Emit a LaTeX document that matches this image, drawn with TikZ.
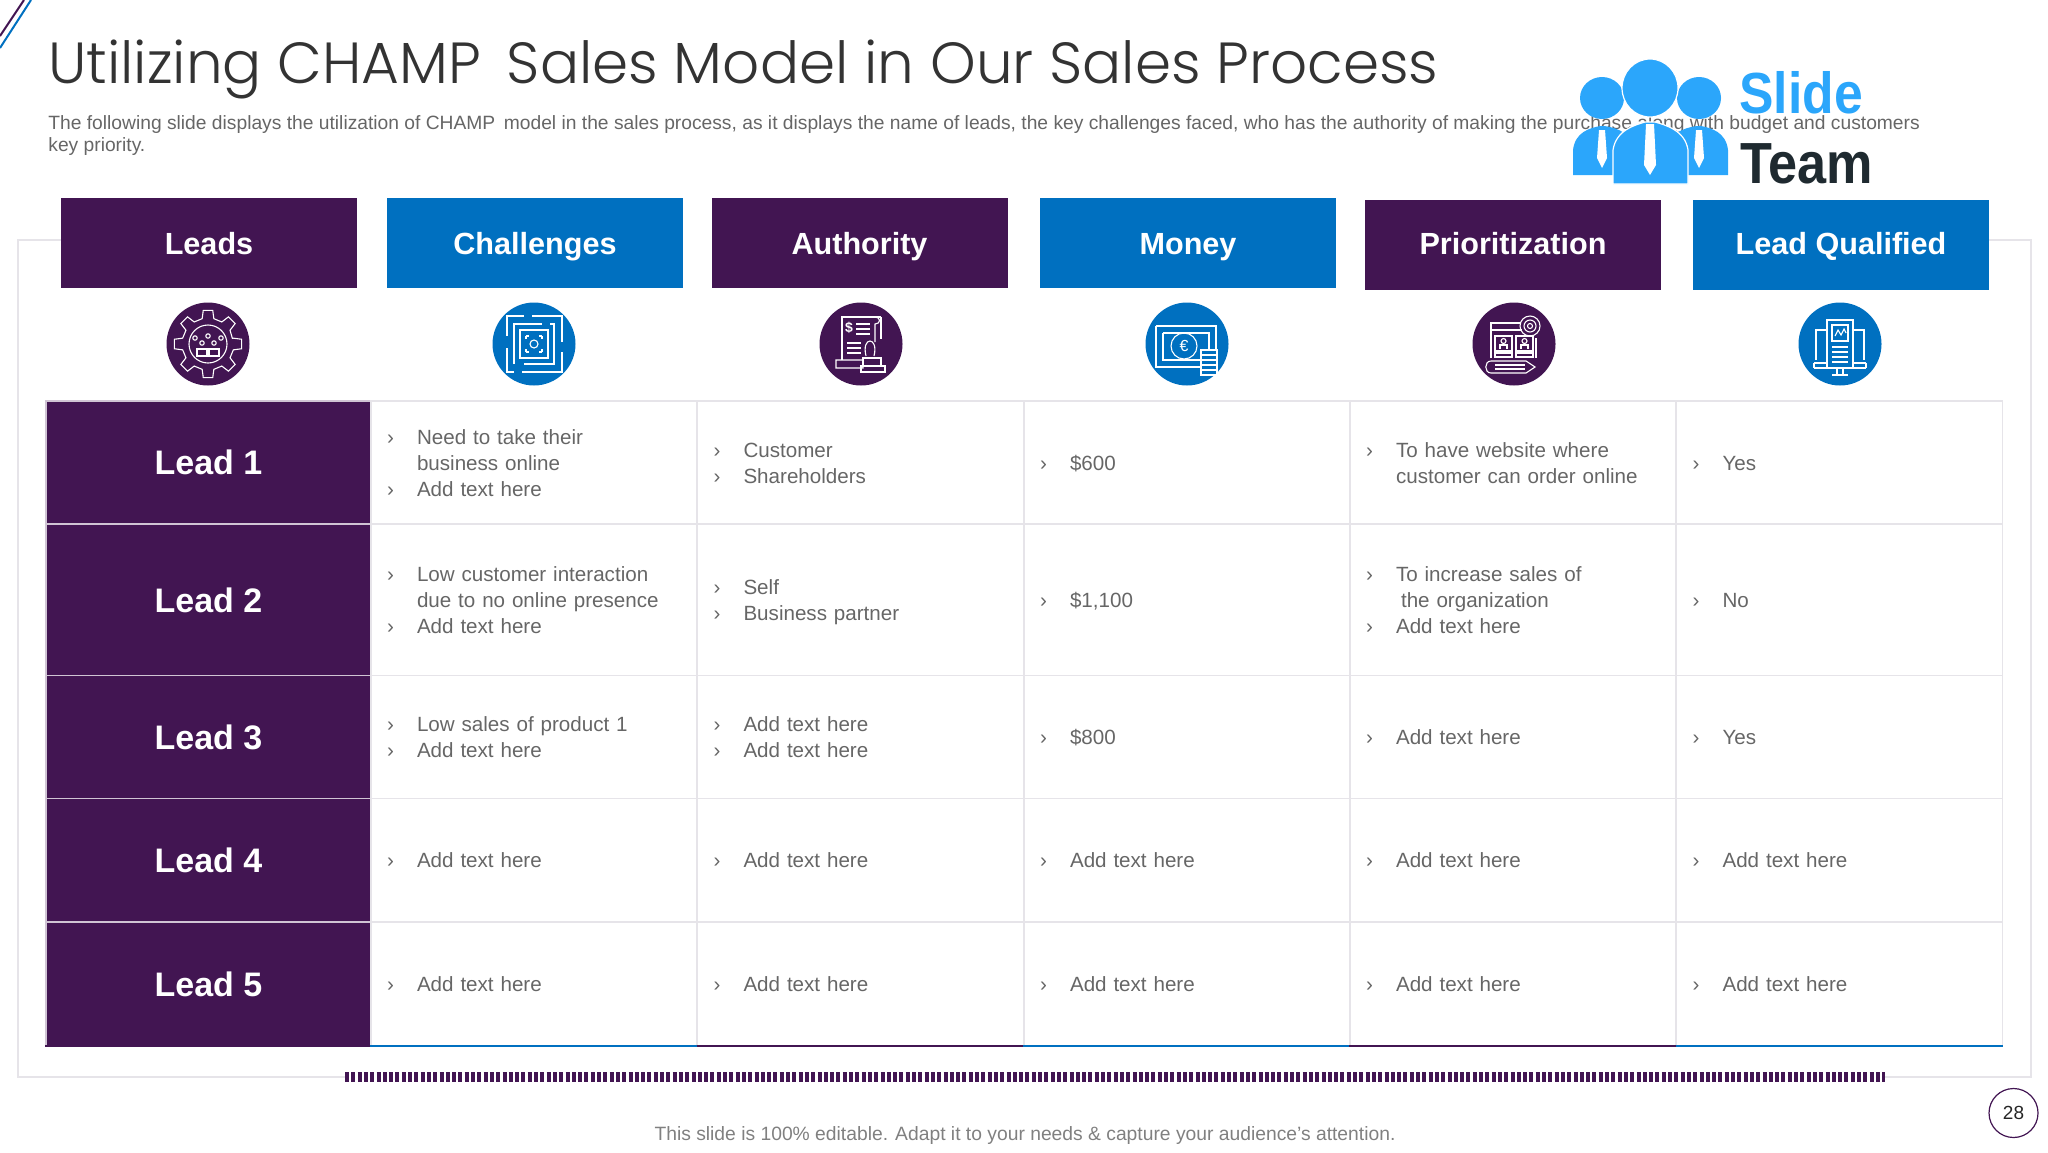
\documentclass[tikz,border=0pt]{standalone}
\usepackage{fontspec}
\setmainfont{Liberation Sans}
\newfontfamily\titlefont{Poppins Light}
\usetikzlibrary{calc, positioning, shapes.geometric}
\definecolor{champpurple}{HTML}{421552}
\definecolor{champblue}{HTML}{0070C0}
\definecolor{gridgray}{HTML}{E6E4E9}
\definecolor{bodygray}{HTML}{666666}
\definecolor{logoblue}{HTML}{2BA6FB}
\definecolor{logodark}{HTML}{1F2A30}
\newcommand{\bul}{\makebox[15pt][l]{›}}
\newcommand{\ind}{\hspace*{15pt}}
\newcommand{\cellstrut}{\rule[-2.6pt]{0pt}{13pt}}

\begin{document}
\begin{tikzpicture}[x=.5pt, y=-.5pt,
  purplehead/.style={fill=champpurple, text=white, font=\fontsize{15.3}{18}\selectfont\bfseries, minimum width=148pt, minimum height=45pt, inner sep=0pt, text height=11pt, text depth=0pt},
  bluehead/.style={purplehead, fill=champblue},
  purplering/.style={fill=champpurple, circle, minimum size=41.5pt, inner sep=0pt},
  bluering/.style={purplering, fill=champblue},
  lead/.style={fill=champpurple, draw=white!75!champpurple, line width=.6pt, text=white, font=\fontsize{17}{20}\selectfont\bfseries, minimum width=162.5pt, inner sep=0pt},
  cell/.style={draw=gridgray, line width=.8pt, text=bodygray, font=\fontsize{10.3}{13}\selectfont, align=left, text width=147pt, inner xsep=8pt, inner ysep=0pt, execute at begin node=\cellstrut, execute at end node=\cellstrut},
  ico/.style={draw=white, line width=.55pt},
  figure/.style={fill=logoblue, draw=white, line width=.6pt}]
  \useasboundingbox (0,0) rectangle (2048,1152);

  \draw[champpurple, line width=1pt] (24,0) -- (0,36);
  \draw[champblue, line width=1pt] (31,0) -- (0,48);

  \node[anchor=base west, inner sep=0pt, text=black!80, font=\fontsize{29}{32}\selectfont\titlefont] (title) at (48,83) {Utilizing CHAMP\, Sales Model in Our Sales Process};
  \node[anchor=north west, inner sep=0pt, text=bodygray, align=left, font=\fontsize{9.62}{11}\selectfont] (intro) at (48,115) {The following slide displays the utilization of CHAMP\, model in the sales process, as it displays the name of leads, the key challenges faced, who has the authority of making the purchase along with budget and customers\\key priority.};

  % logo
  \node[fill=logoblue, ellipse, minimum width=22pt, minimum height=21pt, inner sep=0pt] (headl) at (1602,98) {};
  \node[fill=logoblue, ellipse, minimum width=22pt, minimum height=21pt, inner sep=0pt] (headr) at (1699,98) {};
  \fill[logoblue] (1573,175) -- (1573,150) .. controls (1575,132) and (1590,128) .. (1600,126) -- (1604,126) .. controls (1620,128) and (1632,135) .. (1634,150) -- (1634,175) -- cycle;
  \fill[logoblue] (1728,175) -- (1728,150) .. controls (1726,132) and (1711,128) .. (1701,126) -- (1697,126) .. controls (1681,128) and (1669,135) .. (1667,150) -- (1667,175) -- cycle;
  \node[fill=logoblue, draw=white, line width=.6pt, ellipse, minimum width=28pt, minimum height=29pt, inner sep=0pt] (headc) at (1650,88) {};
  \filldraw[figure] (1613,184) -- (1613,150) .. controls (1616,130) and (1635,125) .. (1645,122) -- (1655,122) .. controls (1665,125) and (1685,130) .. (1688,150) -- (1688,184) -- cycle;
  \fill[white] (1646,124) -- (1654,124) -- (1656,165) -- (1650,175) -- (1644,165) -- cycle;
  \fill[white] (1599,130) -- (1605,130) -- (1607,158) -- (1602,168) -- (1597,158) -- cycle;
  \fill[white] (1696,130) -- (1702,130) -- (1704,158) -- (1699,168) -- (1694,158) -- cycle;
  \node[anchor=base west, inner sep=0pt, text=logoblue, font=\fontsize{29}{30}\selectfont\bfseries] (slide) at (1739,113) {\scalebox{.89}[1]{Slide}};
  \node[anchor=base west, inner sep=0pt, text=logodark, font=\fontsize{29}{30}\selectfont\bfseries] (team) at (1740,183) {\scalebox{.9}[1]{Team}};

  % frame
  \draw[gridgray, line width=.8pt] (61,240) -- (18,240) -- (18,1077) -- (345,1077);
  \draw[gridgray, line width=.8pt] (1885,1077) -- (2031,1077) -- (2031,240) -- (1989,240);
  \draw[champpurple, line width=5pt, dash pattern=on 2pt off 1.15pt] (345,1077) -- (1885,1077);

  \node[purplehead] (hleads) at (209,243) {Leads};
  \node[bluehead] (hchallenges) at (535,243) {Challenges};
  \node[purplehead] (hauthority) at (859.5,243) {Authority};
  \node[bluehead] (hmoney) at (1188,243) {Money};
  \node[purplehead, text height=9.5pt] (hprior) at (1513,244.5) {Prioritization};
  \node[bluehead, text height=9.5pt] (hqualified) at (1841,244.5) {Lead Qualified};

  \node[purplering] (ileads) at (208,344) {};
  \node[bluering] (ichallenges) at (534,344) {};
  \node[purplering] (iauthority) at (861,344) {};
  \node[bluering] (imoney) at (1187,344) {};
  \node[purplering] (iprior) at (1514,344) {};
  \node[bluering] (iqualified) at (1840,344) {};

  % gear
  \begin{scope}[shift={(ileads.center)}]
    \draw[ico] (-13:25) \foreach \a in {0,45,...,315} {-- (\a-13:26) -- (\a-8:34) -- (\a+8:34) -- (\a+13:26)} -- cycle;
    \draw[ico] (0,0) circle[radius=19];
    \draw[ico] (-11,5) rectangle (-1,12);
    \draw[ico] (1,5) rectangle (11,12);
    \foreach \x/\y in {-13/-6,-6/-1,0/-8,6/-1,13/-6}
      \draw[ico] (\x,\y) circle[radius=2.2];
  \end{scope}

  % maze
  \begin{scope}[shift={(ichallenges.center)}]
    \draw[ico] (-27,-8) -- (-27,-28) -- (-10,-28) (-2,-28) -- (28,-28) -- (28,-2) (28,8) -- (28,28) -- (-12,28) (-20,28) -- (-27,28) -- (-27,4);
    \draw[ico] (-20,20) -- (-20,-20) -- (8,-20) (16,-20) -- (20,-20) -- (20,20) -- (-10,20);
    \draw[ico] (-14,-14) rectangle (14,14);
    \draw[ico] (-8,-8) -- (-8,-5) (-8,8) -- (-8,5) (8,-8) -- (8,-5) (8,8) -- (8,5) (-8,-8) -- (-5,-8) (5,-8) -- (8,-8) (-8,8) -- (-5,8) (5,8) -- (8,8);
    \draw[ico] (0,0) circle[radius=4];
  \end{scope}

  % receipt and stamp
  \begin{scope}[shift={(iauthority.center)}]
    \draw[ico] (-19,16) -- (-19,-27) -- (20,-27) (20,-27) -- (20,-5);
    \draw[ico] (14,-27) .. controls (20,-27) and (20,-20) .. (14,-20) -- (14,-2);
    \node[text=white, font=\fontsize{7}{7}\selectfont\bfseries, inner sep=0pt] (dollar) at (-12,-16) {\$};
    \draw[ico] (-5,-20) -- (9,-20) (-5,-15) -- (9,-15) (-5,-10) -- (9,-10) (-14,-1) -- (0,-1) (-14,4) -- (0,4) (-14,9) -- (0,9);
    \draw[ico] (5,12) .. controls (0,-8) and (18,-8) .. (13,12) (-25,16) rectangle (2,24);
    \draw[ico] (2,14) rectangle (20,22) (0,22) rectangle (24,28);
  \end{scope}

  % banknote and coins
  \begin{scope}[shift={(imoney.center)}]
    \draw[ico] (-31,-18) -- (29,-18) -- (29,6) (14,23) -- (-31,23) -- (-31,-18);
    \draw[ico] (-24,-11) -- (22,-11) -- (22,6) (14,16) -- (-24,16) -- (-24,-11);
    \draw[ico] (-3,2) circle[radius=13];
    \node[text=white, font=\fontsize{8}{8}\selectfont, inner sep=0pt] (euro) at (-3,2) {€};
    \draw[ico] (14,6) rectangle (30,31);
    \draw[ico] (14,11) -- (30,11) (14,16) -- (30,16) (14,21) -- (30,21) (14,26) -- (30,26);
  \end{scope}

  % window, gear and pencil
  \begin{scope}[shift={(iprior.center)}]
    \draw[ico] (-23,14) -- (-23,-21) -- (6,-21) (22,-6) -- (22,14);
    \draw[ico] (-23,-14) -- (8,-14);
    \draw[ico] (-19,-8) rectangle (-2,7) (2,-8) rectangle (19,7);
    \draw[ico] (-10.5,-3) circle[radius=2.5] (10.5,-3) circle[radius=2.5];
    \draw[ico] (-14,5) -- (-14,1) -- (-7,1) -- (-7,5) (7,5) -- (7,1) -- (14,1) -- (14,5);
    \draw[ico] (-19,9) rectangle (-2,13) (2,9) rectangle (19,13);
    \draw[ico] (16,-18) circle[radius=10] (16,-18) circle[radius=6] (16,-18) circle[radius=2.5];
    \draw[ico] (-23,17) -- (12,17) -- (21,23) -- (12,29) -- (-23,29) .. controls (-30,29) and (-30,17) .. (-23,17);
    \draw[ico] (-19,21) -- (11,21) (-19,25) -- (11,25);
  \end{scope}

  % monitor and document
  \begin{scope}[shift={(iqualified.center)}]
    \draw[ico] (-13,-24) rectangle (13,24);
    \draw[ico] (-8,-19) rectangle (8,-3);
    \draw[ico] (-5,-8) -- (-2,-14) -- (1,-9) -- (4,-15) -- (6,-11);
    \draw[ico] (-8,3) -- (8,3) (-8,8) -- (8,8) (-8,13) -- (8,13) (-8,18) -- (8,18);
    \draw[ico] (-13,-14) -- (-24,-14) -- (-24,16) (13,-14) -- (24,-14) -- (24,16);
    \draw[ico] (-26,24) -- (26,24) (-26,19) -- (-13,19) (13,19) -- (26,19) (-26,19) -- (-26,24) (26,19) -- (26,24);
    \draw[ico] (-3,24) -- (-3,30) (3,24) -- (3,30) (-8,31) -- (8,31);
  \end{scope}

  % rows
  \node[lead, minimum height=61.5pt] (l1) at (208.5,462.5) {Lead 1};
  \node[lead, minimum height=75.5pt] (l2) at (208.5,600) {Lead 2};
  \node[lead, minimum height=61.5pt] (l3) at (208.5,737) {Lead 3};
  \node[lead, minimum height=61.5pt] (l4) at (208.5,860) {Lead 4};
  \node[lead, minimum height=61.5pt] (l5) at (208.5,984) {Lead 5};

  \node[cell, minimum height=61.5pt] (c11) at (534,462.5) {\bul Need to take their\\\ind business online\\\bul Add text here};
  \node[cell, minimum height=61.5pt] (c12) at (860.5,462.5) {\bul Customer\\\bul Shareholders};
  \node[cell, minimum height=61.5pt] (c13) at (1187,462.5) {\bul \$600};
  \node[cell, minimum height=61.5pt] (c14) at (1513,462.5) {\bul To have website where\\\ind customer can order online};
  \node[cell, minimum height=61.5pt] (c15) at (1839.5,462.5) {\bul Yes};

  \node[cell, minimum height=75.5pt] (c21) at (534,600) {\bul Low customer interaction\\\ind due to no online presence\\\bul Add text here};
  \node[cell, minimum height=75.5pt] (c22) at (860.5,600) {\bul Self\\\bul Business partner};
  \node[cell, minimum height=75.5pt] (c23) at (1187,600) {\bul \$1,100};
  \node[cell, minimum height=75.5pt] (c24) at (1513,600) {\bul To increase sales of\\\ind\hspace*{2.5pt}the organization\\\bul Add text here};
  \node[cell, minimum height=75.5pt] (c25) at (1839.5,600) {\bul No};

  \node[cell, minimum height=61.5pt] (c31) at (534,737) {\bul Low sales of product 1\\\bul Add text here};
  \node[cell, minimum height=61.5pt] (c32) at (860.5,737) {\bul Add text here\\\bul Add text here};
  \node[cell, minimum height=61.5pt] (c33) at (1187,737) {\bul \$800};
  \node[cell, minimum height=61.5pt] (c34) at (1513,737) {\bul Add text here};
  \node[cell, minimum height=61.5pt] (c35) at (1839.5,737) {\bul Yes};

  \node[cell, minimum height=61.5pt] (c41) at (534,860) {\bul Add text here};
  \node[cell, minimum height=61.5pt] (c42) at (860.5,860) {\bul Add text here};
  \node[cell, minimum height=61.5pt] (c43) at (1187,860) {\bul Add text here};
  \node[cell, minimum height=61.5pt] (c44) at (1513,860) {\bul Add text here};
  \node[cell, minimum height=61.5pt] (c45) at (1839.5,860) {\bul Add text here};

  \node[cell, minimum height=61.5pt] (c51) at (534,984) {\bul Add text here};
  \node[cell, minimum height=61.5pt] (c52) at (860.5,984) {\bul Add text here};
  \node[cell, minimum height=61.5pt] (c53) at (1187,984) {\bul Add text here};
  \node[cell, minimum height=61.5pt] (c54) at (1513,984) {\bul Add text here};
  \node[cell, minimum height=61.5pt] (c55) at (1839.5,984) {\bul Add text here};

  \draw[champpurple, line width=1pt] (l5.south west) -- (l5.south east);
  \draw[champblue, line width=1pt] (c51.south west) -- (c51.south east);
  \draw[champpurple, line width=1pt] (c52.south west) -- (c52.south east);
  \draw[champblue, line width=1pt] (c53.south west) -- (c53.south east);
  \draw[champpurple, line width=1pt] (c54.south west) -- (c54.south east);
  \draw[champblue, line width=1pt] (c55.south west) -- (c55.south east);

  \node[draw=champpurple, circle, line width=.6pt, minimum size=24.5pt, inner sep=0pt, font=\fontsize{9.5}{10}\selectfont, text=black!85] (page) at (2013.5,1113) {28};
  \node[inner sep=0pt, text=black!50, font=\fontsize{9.64}{12}\selectfont] (footer) at (1025,1135) {This slide is 100\% editable. Adapt it to your needs \& capture your audience's attention.};
\end{tikzpicture}
\end{document}
